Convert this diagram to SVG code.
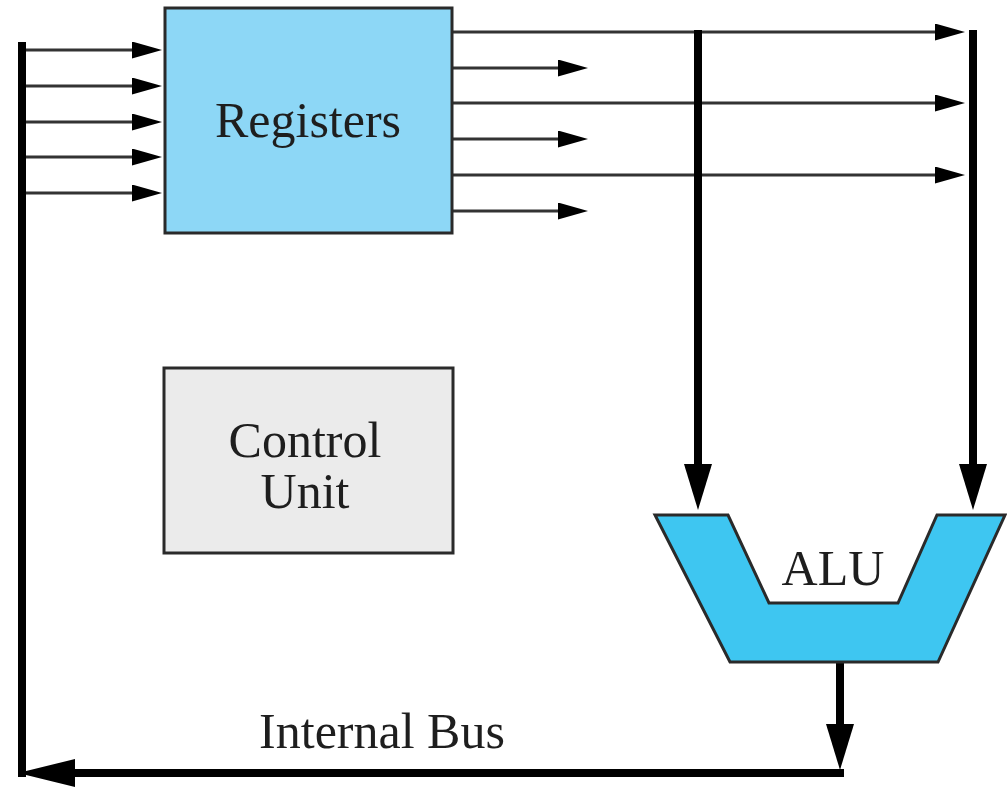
<svg xmlns="http://www.w3.org/2000/svg" width="1007" height="787" viewBox="0 0 1007 787">
  <defs>
    <style>
      .label { font-family: "Liberation Serif", "Times New Roman", serif; font-size: 50px; fill: #1e1e1e; text-anchor: middle; }
      .block { stroke: #2a2a2a; stroke-width: 3; }
      .thin { stroke: #333; stroke-width: 3; fill: none; marker-end: url(#head-thin); }
      .line { stroke: #333; stroke-width: 3; fill: none; }
      .bus { stroke: #000; stroke-width: 8; fill: none; }
      .bus-arrow { stroke: #000; stroke-width: 8; fill: none; marker-end: url(#head-thick); }
    </style>
    <marker id="head-thin" viewBox="0 0 30 17" markerWidth="30" markerHeight="17" refX="2" refY="8.5" orient="auto" markerUnits="userSpaceOnUse">
      <path d="M0,0 L30,8.5 L0,17 Z" fill="#000"/>
    </marker>
    <marker id="head-thick" viewBox="0 0 46 28" markerWidth="46" markerHeight="28" refX="2" refY="14" orient="auto" markerUnits="userSpaceOnUse">
      <path d="M0,0 L46,14 L0,28 Z" fill="#000"/>
    </marker>
    <marker id="head-bus" viewBox="0 0 57 28" markerWidth="57" markerHeight="28" refX="2" refY="14" orient="auto" markerUnits="userSpaceOnUse">
      <path d="M0,0 L57,14 L0,28 Z" fill="#000"/>
    </marker>
  </defs>

  <rect width="1007" height="787" fill="#fff"/>

  <g id="connectors">
    <!-- internal bus feeding the register inputs -->
    <path class="bus" d="M22,42 V777"/>
    <path class="line" d="M26,50 H134" marker-end="url(#head-thin)"/>
    <path class="line" d="M26,86 H134" marker-end="url(#head-thin)"/>
    <path class="line" d="M26,122 H134" marker-end="url(#head-thin)"/>
    <path class="line" d="M26,157 H134" marker-end="url(#head-thin)"/>
    <path class="line" d="M26,193 H134" marker-end="url(#head-thin)"/>

    <!-- register outputs -->
    <path class="thin" d="M452,32 H937"/>
    <path class="thin" d="M452,68 H560"/>
    <path class="thin" d="M452,103 H937"/>
    <path class="thin" d="M452,139 H560"/>
    <path class="thin" d="M452,175 H937"/>
    <path class="thin" d="M452,211 H560"/>

    <!-- operand buses into the ALU -->
    <path class="bus-arrow" d="M698,30 V466"/>
    <path class="bus-arrow" d="M973,30 V466"/>

    <!-- ALU result back onto the internal bus -->
    <path class="bus-arrow" d="M840,662 V726"/>
    <path class="bus" d="M844,773 H73" marker-end="url(#head-bus)"/>
  </g>

  <g id="registers">
    <rect class="block" x="165" y="8" width="287" height="225" fill="#8dd7f6"/>
    <text class="label" x="308" y="137">Registers</text>
  </g>

  <g id="control-unit">
    <rect class="block" x="164" y="368" width="289" height="185" fill="#ebebeb"/>
    <text class="label" x="305" y="457">Control</text>
    <text class="label" x="305" y="508">Unit</text>
  </g>

  <g id="alu">
    <polygon class="block" points="655,515 728,515 769,603 898,603 937,515 1005,515 938,662 730,662" fill="#3ec6f1" stroke-linejoin="miter"/>
    <text class="label" x="833" y="585">ALU</text>
  </g>

  <g id="bus-label">
    <text class="label" x="382" y="748">Internal Bus</text>
  </g>
</svg>
